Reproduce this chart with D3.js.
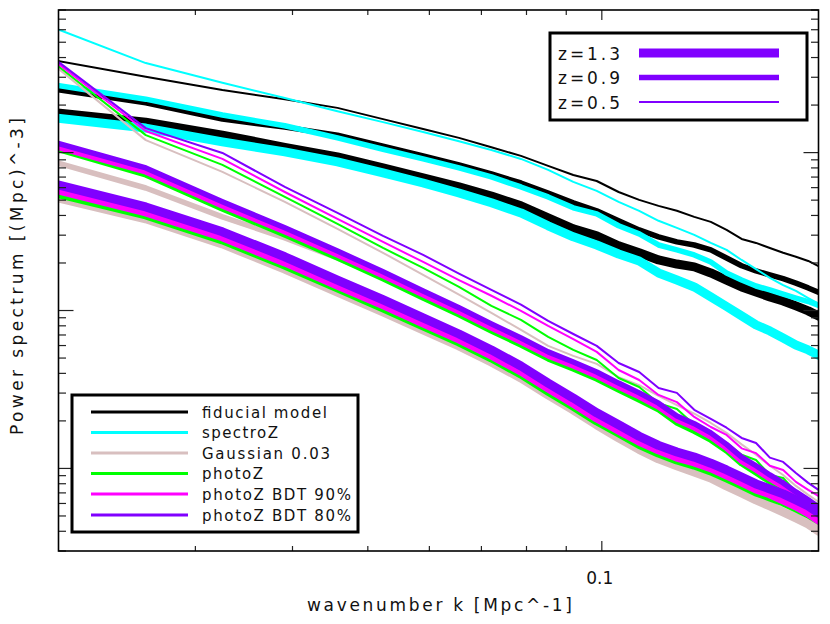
<!DOCTYPE html>
<html>
<head>
<meta charset="utf-8">
<script src="https://cdn.jsdelivr.net/npm/d3@7"></script>
<style>
  html, body { margin: 0; padding: 0; background: #fff; }
  svg { display: block; }
  text { font-family: "DejaVu Sans", "Liberation Sans", sans-serif; fill: #111; }
</style>
</head>
<body>
<svg id="chart" width="830" height="624"></svg>
<script>
// ---------------- data ----------------
const k = [0.0193, 0.0259, 0.0325, 0.0391, 0.0457, 0.0523, 0.0589, 0.0655, 0.0721, 0.0787,
           0.0853, 0.0919, 0.0985, 0.1051, 0.1117, 0.1183, 0.1249, 0.1315, 0.1381, 0.1447,
           0.1513, 0.1579, 0.1645, 0.1711, 0.1777, 0.1843, 0.1909];

const models = ["fiducial model", "spectroZ", "Gaussian 0.03", "photoZ", "photoZ BDT 90%", "photoZ BDT 80%"];
const redshifts = ["1.3", "0.9", "0.5"];
const xTickLabels = ["0.1"];

// fiducial model
const fiducial_z05 = [3.92e5, 3.02e5, 2.49e5, 2.18e5, 1.92e5, 1.63e5, 1.41e5, 1.24e5, 1.08e5, 9.53e4, 8.24e4, 7.22e4, 6.61e4, 5.63e4, 5.02e4, 4.60e4, 4.28e4, 3.92e4, 3.64e4, 3.24e4, 2.84e4, 2.68e4, 2.49e4, 2.32e4, 2.19e4, 2.06e4, 1.89e4];
const fiducial_z09 = [2.57e5, 2.07e5, 1.63e5, 1.45e5, 1.29e5, 1.10e5, 9.53e4, 8.36e4, 7.33e4, 6.42e4, 5.55e4, 4.81e4, 4.28e4, 3.70e4, 3.24e4, 2.93e4, 2.72e4, 2.60e4, 2.42e4, 2.15e4, 1.92e4, 1.78e4, 1.68e4, 1.59e4, 1.49e4, 1.39e4, 1.29e4];
const fiducial_z13 = [1.81e5, 1.56e5, 1.29e5, 1.08e5, 9.39e4, 8.00e4, 6.91e4, 6.06e4, 5.31e4, 4.60e4, 3.86e4, 3.29e4, 2.97e4, 2.57e4, 2.32e4, 2.09e4, 1.97e4, 1.89e4, 1.73e4, 1.56e4, 1.41e4, 1.31e4, 1.22e4, 1.15e4, 1.07e4, 9.95e3, 9.12e3];
// spectroZ
const spectroZ_z05 = [6.43e5, 3.69e5, 2.77e5, 2.22e5, 1.83e5, 1.56e5, 1.35e5, 1.18e5, 1.04e5, 9.12e4, 7.77e4, 6.52e4, 5.72e4, 4.88e4, 4.28e4, 3.70e4, 3.34e4, 3.01e4, 2.68e4, 2.42e4, 2.09e4, 1.83e4, 1.61e4, 1.45e4, 1.33e4, 1.20e4, 1.09e4];
const spectroZ_z09 = [2.73e5, 2.18e5, 1.73e5, 1.48e5, 1.24e5, 1.05e5, 9.12e4, 8.00e4, 7.02e4, 6.06e4, 5.24e4, 4.47e4, 4.09e4, 3.44e4, 3.06e4, 2.60e4, 2.42e4, 2.25e4, 2.03e4, 1.73e4, 1.56e4, 1.43e4, 1.35e4, 1.27e4, 1.20e4, 1.14e4, 1.07e4];
const spectroZ_z13 = [1.68e5, 1.43e5, 1.17e5, 1.01e5, 8.73e4, 7.44e4, 6.42e4, 5.55e4, 4.81e4, 4.15e4, 3.44e4, 2.93e4, 2.60e4, 2.28e4, 2.06e4, 1.73e4, 1.56e4, 1.41e4, 1.22e4, 1.06e4, 9.25e3, 8.11e3, 7.42e3, 6.70e3, 6.05e3, 5.63e3, 5.16e3];
// Gaussian 0.03
const gaussian_z05 = [3.92e5, 1.20e5, 7.55e4, 4.88e4, 3.29e4, 2.32e4, 1.68e4, 1.26e4, 9.67e3, 7.53e3, 5.97e3, 5.16e3, 4.59e3, 3.79e3, 3.37e3, 2.88e3, 2.52e3, 2.22e3, 1.94e3, 1.68e3, 1.42e3, 1.22e3, 1.04e3, 909, 775, 680, 605];
const gaussian_z09 = [8.99e4, 5.97e4, 3.92e4, 2.88e4, 2.15e4, 1.63e4, 1.26e4, 9.81e3, 7.76e3, 6.32e3, 5.16e3, 4.39e3, 3.79e3, 3.23e3, 2.79e3, 2.41e3, 2.03e3, 1.81e3, 1.58e3, 1.34e3, 1.11e3, 978, 858, 764, 670, 596, 530];
const gaussian_z13 = [5.39e4, 3.81e4, 2.64e4, 1.83e4, 1.31e4, 9.81e3, 7.53e3, 5.97e3, 4.72e3, 3.74e3, 2.92e3, 2.35e3, 1.89e3, 1.56e3, 1.32e3, 1.15e3, 1.04e3, 950, 870, 775, 700, 632, 579, 530, 486, 445, 396];
// photoZ
const photoZ_z05 = [4.04e5, 1.29e5, 8.36e4, 5.24e4, 3.54e4, 2.49e4, 1.86e4, 1.41e4, 1.07e4, 8.72e3, 6.80e3, 5.63e3, 4.86e3, 3.74e3, 3.28e3, 2.59e3, 2.38e3, 1.89e3, 1.63e3, 1.45e3, 1.22e3, 1.13e3, 909, 870, 710, 614, 571];
const photoZ_z09 = [1.10e5, 7.22e4, 4.40e4, 3.01e4, 2.15e4, 1.59e4, 1.20e4, 9.39e3, 7.42e3, 6.05e3, 4.94e3, 4.26e3, 3.68e3, 3.14e3, 2.71e3, 2.35e3, 1.94e3, 1.72e3, 1.51e3, 1.29e3, 1.07e3, 936, 822, 731, 641, 571, 508];
const photoZ_z13 = [5.72e4, 4.03e4, 2.80e4, 1.94e4, 1.39e4, 1.04e4, 7.99e3, 6.32e3, 5.01e3, 3.96e3, 3.09e3, 2.48e3, 2.00e3, 1.68e3, 1.42e3, 1.25e3, 1.13e3, 1.05e3, 964, 870, 787, 710, 660, 614, 562, 515, 465];
// photoZ BDT 90%
const bdt90_z05 = [4.16e5, 1.37e5, 9.12e4, 5.63e4, 3.81e4, 2.72e4, 2.03e4, 1.56e4, 1.24e4, 9.95e3, 7.99e3, 6.60e3, 5.47e3, 4.20e3, 3.63e3, 2.92e3, 2.63e3, 2.12e3, 1.83e3, 1.63e3, 1.34e3, 1.25e3, 1.04e3, 978, 822, 731, 660];
const bdt90_z09 = [1.13e5, 7.55e4, 4.60e4, 3.15e4, 2.25e4, 1.66e4, 1.26e4, 9.81e3, 7.76e3, 6.32e3, 5.16e3, 4.45e3, 3.85e3, 3.28e3, 2.84e3, 2.45e3, 2.03e3, 1.81e3, 1.58e3, 1.34e3, 1.11e3, 978, 858, 764, 670, 596, 530];
const bdt90_z13 = [6.06e4, 4.21e4, 2.93e4, 2.03e4, 1.45e4, 1.09e4, 8.35e3, 6.60e3, 5.23e3, 4.14e3, 3.23e3, 2.59e3, 2.09e3, 1.75e3, 1.49e3, 1.31e3, 1.18e3, 1.10e3, 1.01e3, 909, 822, 742, 690, 632, 579, 523, 465];
// photoZ BDT 80%
const bdt80_z05 = [4.28e5, 1.43e5, 9.95e4, 6.06e4, 4.15e4, 2.97e4, 2.25e4, 1.71e4, 1.35e4, 1.09e4, 8.59e3, 7.10e3, 5.97e3, 4.65e3, 4.08e3, 3.23e3, 3.01e3, 2.35e3, 2.06e3, 1.81e3, 1.56e3, 1.45e3, 1.17e3, 1.10e3, 936, 810, 720];
const bdt80_z09 = [1.20e5, 8.00e4, 4.88e4, 3.34e4, 2.38e4, 1.76e4, 1.33e4, 1.04e4, 8.23e3, 6.70e3, 5.47e3, 4.72e3, 4.08e3, 3.47e3, 3.01e3, 2.59e3, 2.15e3, 1.92e3, 1.68e3, 1.42e3, 1.18e3, 1.04e3, 909, 810, 710, 632, 562];
const bdt80_z13 = [6.52e4, 4.53e4, 3.15e4, 2.19e4, 1.56e4, 1.17e4, 8.99e3, 7.10e3, 5.63e3, 4.45e3, 3.47e3, 2.79e3, 2.25e3, 1.89e3, 1.60e3, 1.40e3, 1.27e3, 1.18e3, 1.08e3, 978, 883, 798, 742, 690, 632, 579, 515];

// ---------------- styles ----------------
const modelColor = {
  "fiducial model": "#000000",
  "spectroZ": "#00ffff",
  "Gaussian 0.03": "#d8bfbf",
  "photoZ": "#00ff00",
  "photoZ BDT 90%": "#ff00ff",
  "photoZ BDT 80%": "#8000ff"
};
const zWidth = { "1.3": 9, "0.9": 5.5, "0.5": 2 };

const series = [
  { model: "fiducial model", z: "0.5", values: fiducial_z05 },
  { model: "fiducial model", z: "0.9", values: fiducial_z09 },
  { model: "fiducial model", z: "1.3", values: fiducial_z13 },
  { model: "spectroZ", z: "0.5", values: spectroZ_z05 },
  { model: "spectroZ", z: "0.9", values: spectroZ_z09 },
  { model: "spectroZ", z: "1.3", values: spectroZ_z13 },
  { model: "Gaussian 0.03", z: "0.5", values: gaussian_z05 },
  { model: "Gaussian 0.03", z: "0.9", values: gaussian_z09 },
  { model: "Gaussian 0.03", z: "1.3", values: gaussian_z13 },
  { model: "photoZ", z: "0.5", values: photoZ_z05 },
  { model: "photoZ", z: "0.9", values: photoZ_z09 },
  { model: "photoZ", z: "1.3", values: photoZ_z13 },
  { model: "photoZ BDT 90%", z: "0.5", values: bdt90_z05 },
  { model: "photoZ BDT 90%", z: "0.9", values: bdt90_z09 },
  { model: "photoZ BDT 90%", z: "1.3", values: bdt90_z13 },
  { model: "photoZ BDT 80%", z: "0.5", values: bdt80_z05 },
  { model: "photoZ BDT 80%", z: "0.9", values: bdt80_z09 },
  { model: "photoZ BDT 80%", z: "1.3", values: bdt80_z13 }
];

// ---------------- layout ----------------
const svg = d3.select("#chart");
const L = 58.5, R = 818.5, T = 10, B = 551;

const x = d3.scaleLog().domain([0.02, 0.19]).range([L, R]);
const y = d3.scaleLog().domain([300, 8e5]).range([B, T]);

svg.append("defs").append("clipPath").attr("id", "plotclip")
  .append("rect").attr("x", L).attr("y", T).attr("width", R - L).attr("height", B - T);

const line = d3.line().x(d => x(d[0])).y(d => y(d[1]));

const plot = svg.append("g").attr("clip-path", "url(#plotclip)");
series.forEach(s => {
  plot.append("path")
    .datum(k.map((kv, i) => [kv, s.values[i]]))
    .attr("d", line)
    .attr("fill", "none")
    .attr("stroke", modelColor[s.model])
    .attr("stroke-width", zWidth[s.z])
    .attr("stroke-linejoin", "round")
    .attr("stroke-linecap", "butt");
});

// ---------------- axes (IDL-style inward ticks) ----------------
const tickColor = "#222";
const xTicksMinor = [0.03, 0.04, 0.05, 0.06, 0.07, 0.08, 0.09];
const xTicksMajor = [0.1];
const ax = svg.append("g");
xTicksMinor.forEach(t => {
  ax.append("line").attr("x1", x(t)).attr("x2", x(t)).attr("y1", B).attr("y2", B - 5).attr("stroke", tickColor).attr("stroke-width", 1.2);
  ax.append("line").attr("x1", x(t)).attr("x2", x(t)).attr("y1", T).attr("y2", T + 5).attr("stroke", tickColor).attr("stroke-width", 1.2);
});
xTicksMajor.forEach(t => {
  ax.append("line").attr("x1", x(t)).attr("x2", x(t)).attr("y1", B).attr("y2", B - 10).attr("stroke", tickColor).attr("stroke-width", 1.2);
  ax.append("line").attr("x1", x(t)).attr("x2", x(t)).attr("y1", T).attr("y2", T + 10).attr("stroke", tickColor).attr("stroke-width", 1.2);
});

const yTicksAll = y.ticks(); // 1-2-...-9 per decade
yTicksAll.forEach(t => {
  const lg = Math.log10(t);
  const major = Math.abs(lg - Math.round(lg)) < 1e-9;
  const len = major ? 15 : 7.5;
  const yy = y(t);
  if (yy < T - 0.5 || yy > B + 0.5) return;
  ax.append("line").attr("x1", L).attr("x2", L + len).attr("y1", yy).attr("y2", yy).attr("stroke", tickColor).attr("stroke-width", 1.2);
  ax.append("line").attr("x1", R).attr("x2", R - len).attr("y1", yy).attr("y2", yy).attr("stroke", tickColor).attr("stroke-width", 1.2);
});

svg.append("rect").attr("x", L).attr("y", T).attr("width", R - L).attr("height", B - T)
  .attr("fill", "none").attr("stroke", "#000").attr("stroke-width", 1.6);

// tick label
xTickLabels.forEach(lbl => {
  svg.append("text").attr("x", x(+lbl) - 2).attr("y", 584).attr("text-anchor", "middle")
    .attr("font-size", 17).text(lbl);
});

// axis titles
svg.append("text").attr("x", 307).attr("y", 611).attr("font-size", 17)
  .attr("textLength", 265).attr("lengthAdjust", "spacing")
  .text("wavenumber k [Mpc^-1]");
svg.append("text").attr("transform", "translate(23,435) rotate(-90)")
  .attr("x", 0).attr("y", 0).attr("font-size", 17)
  .attr("textLength", 317).attr("lengthAdjust", "spacing")
  .text("Power spectrum [(Mpc)^-3]");

// ---------------- legend: models ----------------
const leg1 = svg.append("g");
leg1.append("rect").attr("x", 72).attr("y", 395).attr("width", 286).attr("height", 137)
  .attr("fill", "#fff").attr("stroke", "#000").attr("stroke-width", 3);
const leg1Y = [412, 432.5, 453, 473.5, 494, 515];
const leg1Len = [125, 76, 128, 61, 149, 149];
models.forEach((m, i) => {
  leg1.append("line").attr("x1", 91).attr("x2", 188).attr("y1", leg1Y[i]).attr("y2", leg1Y[i])
    .attr("stroke", modelColor[m]).attr("stroke-width", 3);
  leg1.append("text").attr("x", 202).attr("y", leg1Y[i] + 5.5).attr("font-size", 15)
    .attr("textLength", leg1Len[i]).attr("lengthAdjust", "spacing").text(m);
});

// ---------------- legend: redshifts ----------------
const leg2 = svg.append("g");
leg2.append("rect").attr("x", 550).attr("y", 33).attr("width", 257).attr("height", 87)
  .attr("fill", "#fff").attr("stroke", "#000").attr("stroke-width", 3);
const leg2Y = [53, 77.5, 102];
redshifts.forEach((z, i) => {
  leg2.append("text").attr("x", 558).attr("y", leg2Y[i] + 6.5).attr("font-size", 17)
    .attr("textLength", 62).attr("lengthAdjust", "spacing").text("z=" + z);
  leg2.append("line").attr("x1", 639).attr("x2", 779).attr("y1", leg2Y[i]).attr("y2", leg2Y[i])
    .attr("stroke", modelColor["photoZ BDT 80%"]).attr("stroke-width", zWidth[z]);
});
</script>
</body>
</html>
